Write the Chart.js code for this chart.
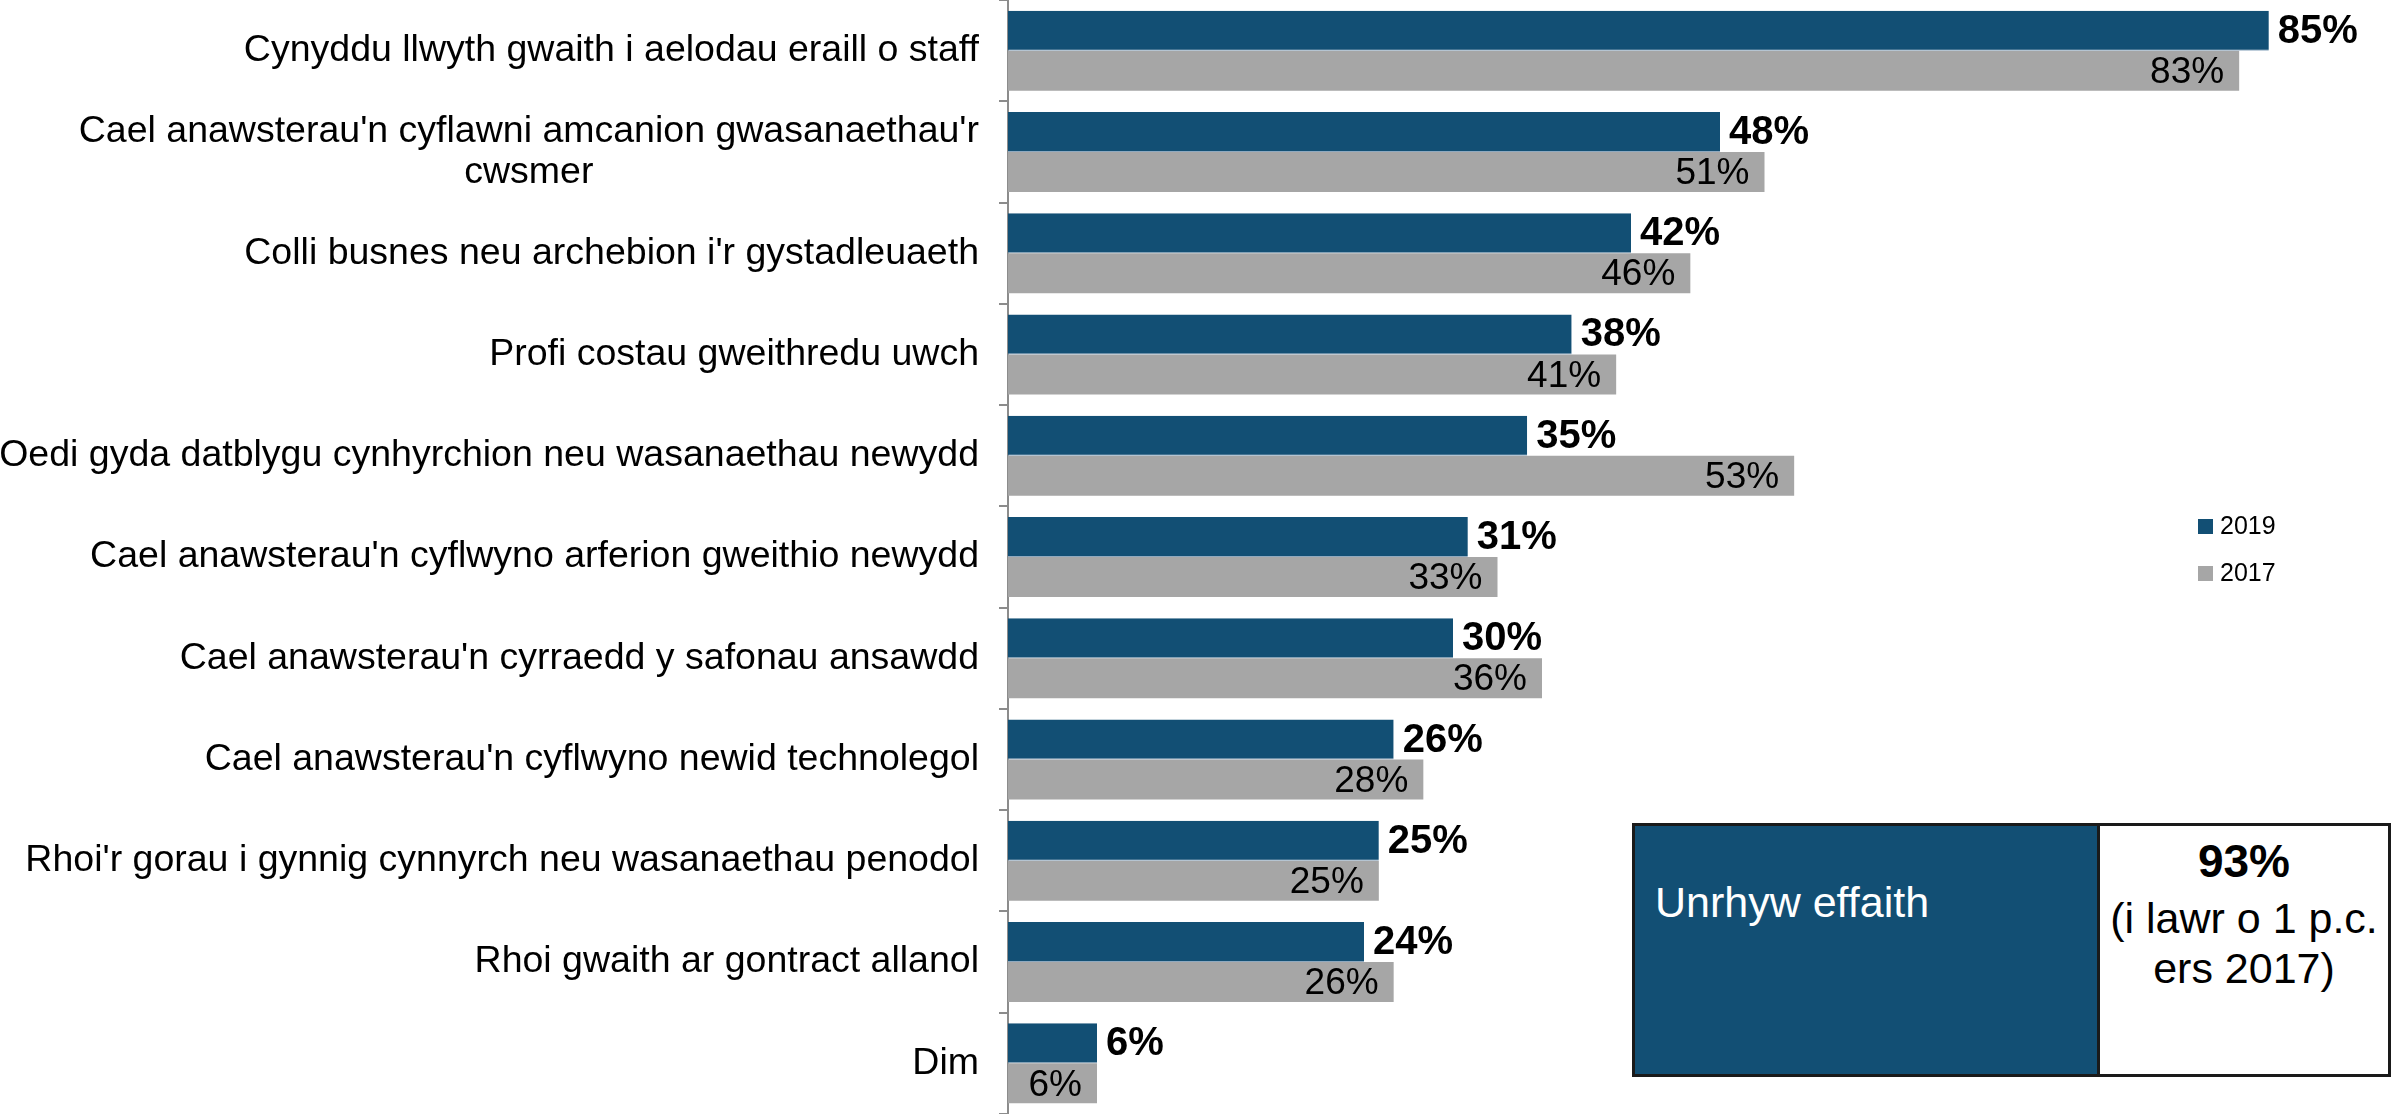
<!DOCTYPE html>
<html>
<head>
<meta charset="utf-8">
<script src="https://cdn.jsdelivr.net/npm/chart.js@4/dist/chart.umd.min.js"></script>
<style>
    body { margin: 0; background: #fff; font-family: "Liberation Sans", Arial, sans-serif; }
    #wrap { position: relative; width: 2391px; height: 1114px; }
    #box { position: absolute; left: 1632px; top: 823px; width: 759px; height: 254px; display: flex; box-sizing: border-box; }
    #box .left { width: 465px; background: #124f74; color: #fff; font-size: 43px; line-height: 50px; padding: 51px 0 0 20px; box-sizing: border-box; border: 3px solid #1a1a1a; border-right: none; }
    #box .right { flex: 1; background: #fff; color: #000; border: 3px solid #1a1a1a; text-align: center; display: flex; flex-direction: column; justify-content: flex-start; padding-top: 3px; font-size: 43px; line-height: 50px; }
    #box .right b { font-size: 46px; line-height: 64px; }
</style>
</head>
<body>
<div id="wrap">
    <canvas id="grafico"></canvas>
    <div id="box">
        <div class="left">Unrhyw effaith</div>
        <div class="right"><b>93%</b><span>(i lawr o 1 p.c.</span><span>ers 2017)</span></div>
    </div>
</div>
<script>
// Categorías y valores
const categorias = [
    'Cynyddu llwyth gwaith i aelodau eraill o staff',
    ["Cael anawsterau'n cyflawni amcanion gwasanaethau'r", 'cwsmer'],
    "Colli busnes neu archebion i'r gystadleuaeth",
    'Profi costau gweithredu uwch',
    'Oedi gyda datblygu cynhyrchion neu wasanaethau newydd',
    "Cael anawsterau'n cyflwyno arferion gweithio newydd",
    "Cael anawsterau'n cyrraedd y safonau ansawdd",
    "Cael anawsterau'n cyflwyno newid technolegol",
    "Rhoi'r gorau i gynnig cynnyrch neu wasanaethau penodol",
    'Rhoi gwaith ar gontract allanol',
    'Dim'
];
const valores2019 = [85, 48, 42, 38, 35, 31, 30, 26, 25, 24, 6];
const valores2017 = [83, 51, 46, 41, 53, 33, 36, 28, 25, 26, 6];
const series = ['2019', '2017'];

const FUENTE = '"Liberation Sans", Arial, sans-serif';

// Etiquetas de categoría: bloque alineado a la derecha, líneas centradas
const etiquetasCategoria = {
    id: 'etiquetasCategoria',
    afterDraw(chart) {
        const ctx = chart.ctx;
        const escala = chart.scales.y;
        const derecha = escala.right - 29;
        const alto = 41;
        ctx.save();
        ctx.font = '37.5px ' + FUENTE;
        ctx.fillStyle = '#000';
        ctx.textBaseline = 'middle';
        ctx.textAlign = 'center';
        chart.data.labels.forEach((lab, i) => {
            const lineas = Array.isArray(lab) ? lab : [lab];
            const ancho = Math.max(...lineas.map(l => ctx.measureText(l).width));
            const cx = derecha - ancho / 2;
            const y0 = escala.getPixelForTick(i) - (lineas.length - 1) * alto / 2;
            lineas.forEach((l, k) => ctx.fillText(l, cx, y0 + k * alto));
        });
        ctx.restore();
    }
};

// Etiquetas de valor sobre las barras
const etiquetasValor = {
    id: 'etiquetasValor',
    afterDatasetsDraw(chart) {
        const ctx = chart.ctx;
        chart.data.datasets.forEach((ds, i) => {
            const meta = chart.getDatasetMeta(i);
            meta.data.forEach((bar, j) => {
                const texto = ds.data[j] + '%';
                ctx.save();
                ctx.fillStyle = '#000';
                ctx.textBaseline = 'middle';
                if (i === 0) {
                    ctx.font = 'bold 40px ' + FUENTE;
                    ctx.textAlign = 'left';
                    ctx.fillText(texto, bar.x + 9, bar.y + 1);
                } else {
                    ctx.font = '37px ' + FUENTE;
                    ctx.textAlign = 'right';
                    ctx.fillText(texto, bar.x - 15, bar.y + 2);
                }
                ctx.restore();
            });
        });
    }
};

// Leyenda a mano, a la derecha
const leyenda = {
    id: 'leyenda',
    afterDraw(chart) {
        const ctx = chart.ctx;
        chart.data.datasets.forEach((ds, i) => {
            const y = 527 + i * 47;
            ctx.save();
            ctx.fillStyle = ds.backgroundColor;
            ctx.fillRect(2198, y - 8, 15, 15);
            ctx.fillStyle = '#000';
            ctx.font = '25px ' + FUENTE;
            ctx.textAlign = 'left';
            ctx.textBaseline = 'middle';
            ctx.fillText(ds.label, 2220, y);
            ctx.restore();
        });
    }
};

const ctx = document.getElementById('grafico').getContext('2d');
new Chart(ctx, {
    type: 'bar',
    data: {
        labels: categorias,
        datasets: [{
            label: series[0],
            data: valores2019,
            backgroundColor: '#124f74',
            borderColor: '#8fa9bf',
            borderWidth: { top: 0, bottom: 1, left: 0, right: 0 },
            categoryPercentage: 0.79,
            barPercentage: 1
        }, {
            label: series[1],
            data: valores2017,
            backgroundColor: '#a6a6a6',
            categoryPercentage: 0.79,
            barPercentage: 1
        }]
    },
    options: {
        indexAxis: 'y',
        responsive: true,
        maintainAspectRatio: false,
        animation: false,
        layout: { padding: { top: 0, right: 48, bottom: 0, left: 0 } },
        scales: {
            x: { display: false, min: 0, max: 90 },
            y: {
                afterFit: (scale) => {
                    scale.width = 1008;
                    scale.paddingTop = 0;
                    scale.paddingBottom = 0;
                },
                grid: { drawOnChartArea: false, tickLength: 9, color: '#8c8c8c', lineWidth: 2 },
                border: { color: '#8c8c8c', width: 2 },
                ticks: { display: false }
            }
        },
        plugins: {
            legend: { display: false },
            tooltip: { enabled: false }
        }
    },
    plugins: [etiquetasCategoria, etiquetasValor, leyenda]
});
</script>
</body>
</html>
